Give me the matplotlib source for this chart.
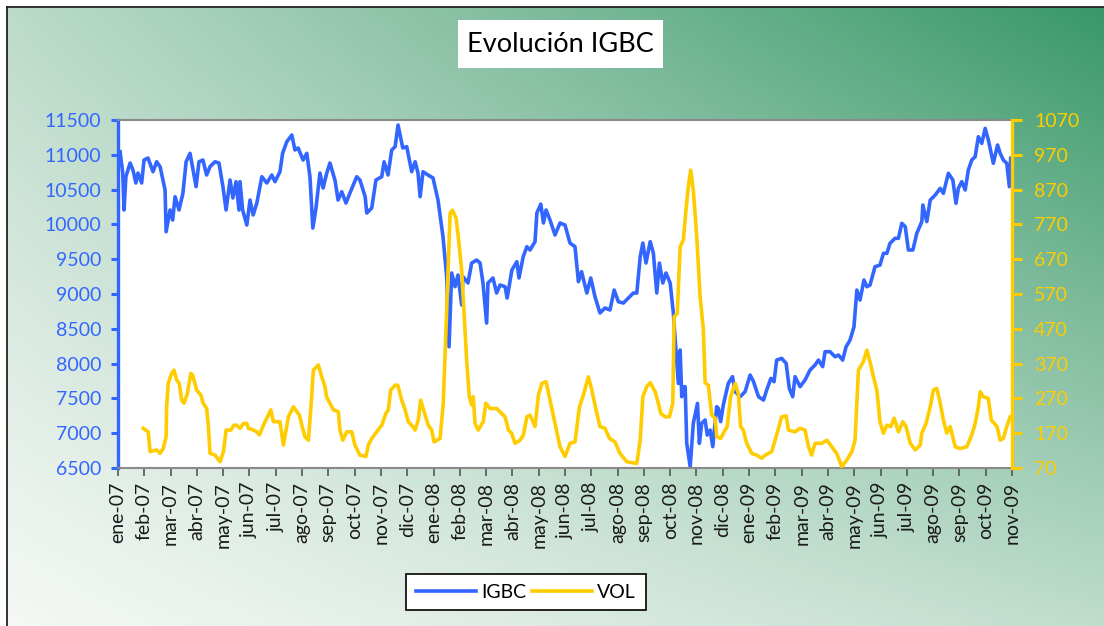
import numpy as np
import matplotlib
matplotlib.use('Agg')
import matplotlib.pyplot as plt
from matplotlib.patches import Rectangle
from matplotlib.lines import Line2D

# ---------------- data ----------------
meses = ['ene', 'feb', 'mar', 'abr', 'may', 'jun', 'jul', 'ago', 'sep', 'oct', 'nov', 'dic']
tick_labels = [f"{m}-{y:02d}" for y in (7, 8, 9) for m in meses][:35]   # ene-07 ... nov-09

# x = months elapsed since 1 Jan 2007
igbc_x = [0.08, 0.18, 0.23, 0.30, 0.46, 0.57, 0.68, 0.76, 0.90, 0.99, 1.14, 1.33, 1.47, 1.60, 1.79, 1.83,
          1.98, 2.08, 2.17, 2.32, 2.47, 2.59, 2.74, 2.97, 3.08, 3.23, 3.37, 3.50, 3.69, 3.84, 3.99, 4.11,
          4.26, 4.37, 4.49, 4.60, 4.64, 4.74, 4.90, 5.02, 5.14, 5.28, 5.47, 5.66, 5.85, 5.97, 6.16, 6.26,
          6.42, 6.61, 6.73, 6.85, 7.04, 7.18, 7.30, 7.41, 7.53, 7.68, 7.80, 7.94, 8.06, 8.25, 8.37, 8.51,
          8.67, 8.82, 9.08, 9.20, 9.40, 9.46, 9.65, 9.81, 10.03, 10.12, 10.27, 10.41, 10.54, 10.65, 10.83,
          10.98, 11.17, 11.30, 11.41, 11.49, 11.60, 11.79, 11.98, 12.17, 12.36, 12.50, 12.59,
          12.69, 12.82, 12.93, 13.07, 13.12, 13.31, 13.45, 13.64, 13.77, 13.88, 14.02, 14.07, 14.26, 14.40,
          14.53, 14.72, 14.80, 14.98, 15.17, 15.25, 15.41, 15.55, 15.67, 15.86, 15.93, 16.08, 16.18, 16.28,
          16.43, 16.62, 16.81, 17.00, 17.19, 17.38, 17.51, 17.63, 17.83, 17.98, 18.14, 18.33, 18.52, 18.71,
          18.87, 19.03, 19.22, 19.41, 19.60, 19.73, 19.86, 19.96, 20.08, 20.24, 20.36, 20.49, 20.59, 20.72,
          20.84, 21.00, 21.12, 21.22, 21.31, 21.38, 21.44, 21.50, 21.57, 21.63, 21.76, 21.88, 22.04, 22.11,
          22.20, 22.33, 22.41, 22.52, 22.62, 22.77, 22.83, 22.92, 23.02, 23.21, 23.37, 23.47, 23.66, 23.85,
          24.04, 24.17, 24.36, 24.55, 24.67, 24.83, 24.95, 25.05, 25.24, 25.41, 25.53, 25.66, 25.75, 25.94,
          26.13, 26.32, 26.51, 26.64, 26.80, 26.89, 27.08, 27.27, 27.40, 27.56, 27.69, 27.84, 27.99, 28.10,
          28.22, 28.37, 28.48, 28.60, 28.79, 28.98, 29.11, 29.24, 29.36, 29.55, 29.68, 29.81, 29.94, 30.06,
          30.23, 30.38, 30.57, 30.61, 30.76, 30.89, 31.08, 31.27, 31.39, 31.58, 31.75, 31.87, 31.96, 32.09,
          32.22, 32.34, 32.47, 32.60, 32.72, 32.85, 32.98, 33.10, 33.29, 33.45, 33.55, 33.67, 33.80, 33.90,
          33.95]
igbc = [11045, 10738, 10207, 10685, 10882, 10781, 10595, 10738, 10595, 10925, 10954, 10757, 10900, 10830, 10494, 9895,
        10207, 10063, 10398, 10207, 10450, 10900, 11021, 10542, 10900, 10925, 10710, 10830, 10900, 10882, 10542, 10207,
        10638, 10379, 10614, 10207, 10614, 10207, 9991, 10350, 10135, 10307, 10685, 10595, 10710, 10614, 10757, 11021,
        11188, 11284, 11069, 11098, 10925, 11021, 10685, 9948, 10235, 10738, 10522, 10738, 10882, 10638, 10350, 10470,
        10307, 10450, 10685, 10638, 10398, 10163, 10235, 10638, 10685, 10900, 10710, 11069, 11117, 11428, 11098,
        11117, 10757, 10900, 10738, 10398, 10757, 10710, 10667, 10350, 9823, 9248, 8242,
        9302, 9105, 9273, 8842, 9248, 9158, 9445, 9488, 9445, 9158, 8583, 9158, 9230, 9014,
        9129, 9105, 8942, 9345, 9464, 9230, 9536, 9680, 9632, 9752, 10163, 10292, 10020, 10207,
        10063, 9848, 10020, 9991, 9732, 9680, 9177, 9321, 9014, 9230, 8961, 8727, 8799, 8770,
        9057, 8889, 8870, 8942, 9014, 9014, 9536, 9732, 9445, 9752, 9589, 9014, 9445, 9158,
        9302, 9158, 8727, 8195, 7716, 8195, 7524, 7668, 7668, 6854, 6518, 7142, 7429, 6854,
        7142, 7190, 6973, 7045, 6806, 7381, 7357, 7166, 7405, 7716, 7812, 7597, 7524, 7597,
        7836, 7740, 7524, 7476, 7620, 7788, 7740, 8051, 8075, 8003, 7644, 7524, 7812, 7668,
        7764, 7908, 7980, 8051, 7956, 8171, 8171, 8099, 8123, 8051, 8242, 8338, 8529, 9057,
        8913, 9201, 9105, 9129, 9392, 9416, 9584, 9584, 9728, 9800, 9800, 10016, 9967, 9632,
        9632, 9872, 10040, 10279, 10040, 10350, 10422, 10518, 10446, 10734, 10638, 10303, 10518, 10614,
        10494, 10782, 10925, 10973, 11260, 11164, 11380, 11213, 10878, 11141, 11021, 10925, 10878, 10542,
        10950]

vol_x = [0.96, 1.15, 1.22, 1.47, 1.60, 1.72, 1.83, 1.85, 1.91, 2.04, 2.13, 2.23, 2.33, 2.42, 2.51, 2.64,
         2.77, 2.84, 2.99, 3.15, 3.24, 3.37, 3.43, 3.50, 3.69, 3.88, 4.01, 4.11, 4.29, 4.41, 4.51, 4.64,
         4.77, 4.90, 4.96, 5.15, 5.28, 5.38, 5.53, 5.66, 5.81, 5.91, 6.04, 6.16, 6.29, 6.39, 6.48, 6.67,
         6.80, 6.90, 6.99, 7.11, 7.24, 7.33, 7.43, 7.62, 7.75, 7.87, 7.93, 8.06, 8.19, 8.38, 8.44, 8.55,
         8.70, 8.89, 9.01, 9.20, 9.43, 9.52, 9.65, 9.84, 10.03, 10.19, 10.28, 10.37, 10.54, 10.64, 10.79,
         10.92, 11.04, 11.17, 11.30, 11.42, 11.51, 11.64, 11.80, 11.93, 12.02, 12.25, 12.37, 12.50, 12.63,
         12.72, 12.86, 12.94, 13.07, 13.17, 13.26, 13.36, 13.45, 13.51, 13.58, 13.70, 13.89, 13.99, 14.15,
         14.40, 14.59, 14.72, 14.85, 14.97, 15.10, 15.29, 15.42, 15.55, 15.67, 15.86, 15.99, 16.12, 16.28,
         16.43, 16.62, 16.81, 17.00, 17.19, 17.38, 17.55, 17.70, 17.89, 18.02, 18.18, 18.33, 18.52, 18.69,
         18.90, 19.09, 19.35, 19.73, 19.86, 19.96, 20.11, 20.24, 20.43, 20.55, 20.64, 20.81, 20.97, 21.10,
         21.15, 21.27, 21.38, 21.50, 21.60, 21.69, 21.78, 21.88, 22.01, 22.14, 22.26, 22.33, 22.45, 22.58,
         22.71, 22.77, 22.92, 23.09, 23.17, 23.30, 23.47, 23.59, 23.68, 23.78, 23.91, 24.10, 24.29, 24.48,
         24.61, 24.86, 25.05, 25.24, 25.41, 25.50, 25.75, 25.94, 26.13, 26.26, 26.38, 26.51, 26.77, 26.96,
         27.15, 27.33, 27.53, 27.72, 27.91, 28.03, 28.16, 28.35, 28.48, 28.63, 28.73, 28.86, 28.98, 29.11,
         29.24, 29.39, 29.52, 29.68, 29.85, 29.97, 30.13, 30.32, 30.51, 30.57, 30.73, 30.89, 31.01, 31.14,
         31.27, 31.39, 31.52, 31.65, 31.84, 32.03, 32.28, 32.47, 32.60, 32.72, 32.79, 32.91, 33.10, 33.21,
         33.43, 33.55, 33.67, 33.80, 33.93]
vol = [184, 174, 117, 122, 112, 126, 160, 246, 313, 342, 351, 323, 313, 265, 256, 285,
       342, 337, 294, 280, 256, 241, 198, 112, 107, 88, 117, 179, 179, 193, 193, 184,
       198, 198, 184, 179, 174, 165, 193, 213, 237, 203, 203, 203, 136, 179, 217, 246,
       232, 222, 193, 160, 150, 237, 351, 366, 332, 304, 275, 256, 237, 232, 179, 150,
       174, 174, 136, 107, 103, 136, 155, 174, 193, 227, 237, 294, 308, 308, 265,
       237, 203, 193, 179, 208, 265, 232, 193, 179, 145, 155, 256, 524, 802,
       811, 787, 735, 639, 505, 380, 275, 251, 275, 198, 179, 203, 256, 241,
       241, 227, 217, 179, 170, 141, 150, 165, 217, 222, 189, 280, 313, 318,
       265, 198, 131, 103, 141, 145, 246, 280, 332, 294, 237, 189, 184, 155,
       145, 112, 88, 83, 150, 275, 304, 315, 289, 256, 227, 217, 217, 256,
       505, 514, 706, 725, 811, 878, 926, 869, 735, 560, 470, 315, 308, 222,
       213, 160, 155, 179, 189, 275, 313, 285, 189, 179, 141, 112, 107, 98,
       107, 117, 165, 217, 220, 179, 174, 184, 179, 131, 107, 141, 141, 150,
       131, 112, 74, 93, 117, 150, 351, 376, 409, 366, 332, 294, 203, 170,
       193, 189, 213, 174, 203, 189, 141, 122, 136, 170, 198, 246, 294, 299,
       256, 208, 170, 189, 131, 126, 131, 165, 198, 246, 289, 275, 270, 208,
       189, 150, 155, 189, 217]

igbc_ticks = list(range(6500, 11501, 500))
vol_ticks = list(range(70, 1071, 100))

BLUE = '#3366FF'
YELLOW = '#FFCC00'

plt.rcParams['font.family'] = ['Lato', 'DejaVu Sans']

W, H = 1104, 626
fig = plt.figure(figsize=(W / 100, H / 100), dpi=100, facecolor='white')

# ---------------- background gradient ----------------
bg = fig.add_axes([7 / W, 0, 1 - 7 / W, 1 - 7 / H], zorder=-10)
ny, nx = 160, 300
u = np.linspace(0, 1, nx)[None, :]
t = np.linspace(1, 0, ny)[:, None]
wgt = (u * (1 - t) * 0.32 + (1 - u) * t * 0.34 + u * t * 1.0)
wgt = wgt ** 1.1
light = np.array([245, 248, 245]) / 255
green = np.array([56, 152, 104]) / 255
img = light[None, None, :] + wgt[..., None] * (green - light)[None, None, :]
bg.imshow(img, aspect='auto', extent=[0, 1, 0, 1], interpolation='bilinear')
bg.axis('off')
fig.add_artist(Line2D([7 / W, 7 / W], [0, 1 - 7 / H], transform=fig.transFigure, color='#222222', lw=1.3))
fig.add_artist(Line2D([7 / W, 1], [1 - 7 / H, 1 - 7 / H], transform=fig.transFigure, color='#222222', lw=1.3))

# ---------------- main axes ----------------
ax = fig.add_axes([118 / W, 1 - 468 / H, (1012 - 118) / W, (468 - 120) / H])
ax.set_facecolor('white')
ax.plot(igbc_x, igbc, color=BLUE, lw=2.6, solid_joinstyle='round')
ax.set_xlim(0, 34)
ax.set_ylim(6500, 11500)
ax.set_yticks(igbc_ticks)
ax.set_xticks(range(len(tick_labels)))
ax.set_xticklabels(tick_labels, rotation=90)

for s in ('top', 'bottom'):
    ax.spines[s].set_color('#8a8a8a')
    ax.spines[s].set_linewidth(1.5)
ax.spines['left'].set_color(BLUE)
ax.spines['left'].set_linewidth(2.4)
ax.spines['right'].set_visible(False)
ax.tick_params(axis='y', colors=BLUE, direction='out', length=5, width=2.2, labelsize=14, pad=7)
ax.tick_params(axis='x', colors='#555555', direction='out', length=6, width=1.2, labelsize=14,
               labelcolor='#1a1a1a', pad=4)

ax2 = ax.twinx()
ax2.plot(vol_x, vol, color=YELLOW, lw=2.6, solid_joinstyle='round')
ax2.set_ylim(70, 1070)
ax2.set_yticks(vol_ticks)
for s in ('top', 'bottom', 'left'):
    ax2.spines[s].set_visible(False)
ax2.spines['right'].set_color(YELLOW)
ax2.spines['right'].set_linewidth(2.4)
ax2.tick_params(axis='y', colors=YELLOW, direction='out', length=7, width=2.2, labelsize=14, pad=9)

# ---------------- title ----------------
fig.add_artist(Rectangle((458 / W, 1 - 68 / H), 205 / W, 48 / H, transform=fig.transFigure,
                         facecolor='white', edgecolor='none'))
fig.text(560.5 / W, 1 - 44 / H, 'Evolución IGBC', ha='center', va='center', fontsize=19.5, color='black')

# ---------------- legend ----------------
handles = [Line2D([], [], color=BLUE, lw=2.6), Line2D([], [], color=YELLOW, lw=2.6)]
leg = fig.legend(handles, ['IGBC', 'VOL'], loc='center', bbox_to_anchor=(526 / W, 1 - 592 / H), ncol=2,
                 frameon=True, fancybox=False, edgecolor='black', framealpha=1, fontsize=14,
                 handlelength=3.1, columnspacing=0.3, handletextpad=0.25, borderpad=0.5)
leg.get_frame().set_linewidth(1.2)

fig.savefig('out.png', dpi=100)
